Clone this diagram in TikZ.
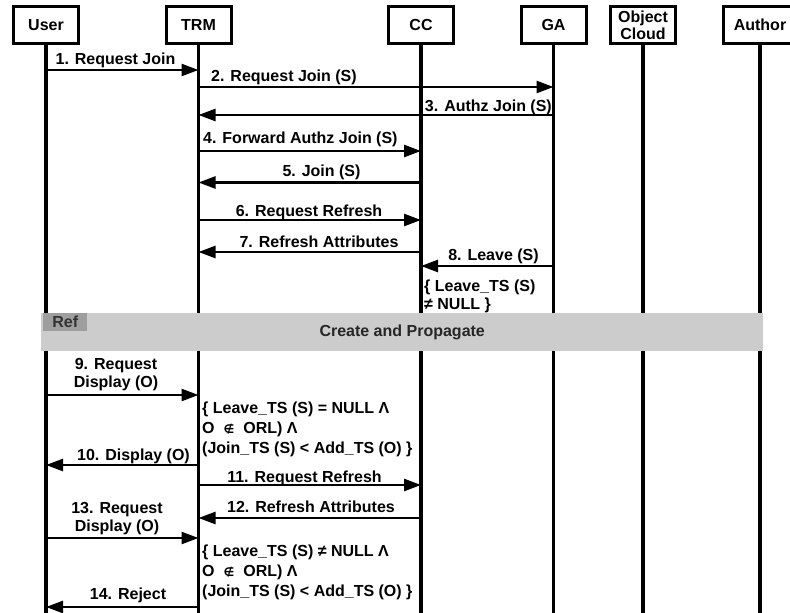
\documentclass[tikz,border=0pt]{standalone}
\usepackage{fontspec}
\setmainfont{Liberation Sans}
\newfontfamily\signfont{DejaVu Sans}
\usepackage{tikz}
\usetikzlibrary{arrows.meta,positioning}
\usepackage{xcolor}
\definecolor{refcolor}{RGB}{204,204,204}
\definecolor{tabcolor}{RGB}{158,158,158}

\begin{document}
\begin{tikzpicture}[
    x=1pt, y=-1pt,
    actor/.style={draw, line width=3pt, minimum width=65pt, minimum height=37pt, inner sep=0pt, align=center, font=\bfseries\fontsize{16}{17}\selectfont},
    life/.style={line width=3.5pt},
    msg/.style={line width=2.5pt, -{Triangle[length=17pt,width=12pt]}},
    lbl/.style={inner sep=0pt, align=center, font=\bfseries\fontsize{16}{18}\selectfont},
    cond/.style={inner sep=0pt, align=left, font=\bfseries\fontsize{16}{20}\selectfont}
]
    \useasboundingbox (0,0) rectangle (790,613);

    % Actors
    \foreach \n/\x/\t in {user/46/User, trm/198.5/TRM, cc/421/CC, ga/553.5/GA, oc/643/Object\\Cloud} {
        \node[actor] (\n) at (\x, 25) {\t};
    }
    \node[actor, minimum width=73pt] (author) at (760, 25) {Author};

    % Lifelines
    \coordinate (bottom) at (0, 625);
    \foreach \n in {user, trm, cc, ga, oc, author} {
        \draw[life] (\n.south) -- (\n.south |- bottom);
    }

    % Join
    \draw[msg] (user |- 0,70) -- (trm |- 0,70);
    \node[lbl, anchor=base] (m1) at (115.5, 64.5) {1. Request Join};
    \draw[msg] (trm |- 0,87) -- (ga |- 0,87);
    \node[lbl, anchor=base west] (m2) at (211, 81.5) {2. Request Join (S)};
    \draw[msg] (ga |- 0,115) -- (trm |- 0,115);
    \node[lbl, anchor=base east] (m3) at (552, 111.5) {3. Authz Join (S)};
    \draw[msg] (trm |- 0,151) -- (cc |- 0,151);
    \node[lbl, anchor=base west] (m4) at (203, 143.5) {4. Forward Authz Join (S)};
    \draw[msg] (cc |- 0,182.5) -- (trm |- 0,182.5);
    \node[lbl, anchor=base] (m5) at (321.5, 176.5) {5. Join (S)};
    \draw[msg] (trm |- 0,220) -- (cc |- 0,220);
    \node[lbl, anchor=base] (m6) at (309, 216.5) {6. Request Refresh};
    \draw[msg] (cc |- 0,252) -- (trm |- 0,252);
    \node[lbl, anchor=base] (m7) at (319, 247.5) {7. Refresh Attributes};
    \draw[msg] (ga |- 0,266) -- (cc |- 0,266);
    \node[lbl, anchor=base] (m8) at (493.5, 260.5) {8. Leave (S)};
    \node[cond, anchor=base west, font=\bfseries\fontsize{16}{18}\selectfont] (n8) at (424, 309.5) {\{ Leave\_TS (S)\\≠ NULL \}};

    % Ref frame
    \node[fill=refcolor, minimum width=722pt, minimum height=38pt, inner sep=0pt, anchor=north west,
          font=\bfseries\fontsize{16}{18}\selectfont, text=black!85] (ref) at (41, 313) {Create and Propagate};
    \node[fill=tabcolor, minimum width=44pt, minimum height=18pt, inner sep=0pt, anchor=north west,
          font=\bfseries\fontsize{16}{18}\selectfont, text=black!80] (reftab) at (43, 313) {Ref};

    % Display, no leave
    \draw[msg] (user |- 0,395) -- (trm |- 0,395);
    \node[lbl, anchor=base] (m9) at (116, 387) {9. Request\\Display (O)};
    \node[cond, anchor=base west] (c9) at (202, 453.5)
        {\{ Leave\_TS (S) = NULL Λ\\O\hspace{9pt}{\signfont\fontsize{12}{12}\selectfont ∉}\hspace{9pt}ORL) Λ\\(Join\_TS (S) < Add\_TS (O) \}};
    \draw[msg] (trm |- 0,465) -- (user |- 0,465);
    \node[lbl, anchor=base] (m10) at (133.5, 460) {10. Display (O)};

    % Display after leave
    \draw[msg] (trm |- 0,485) -- (cc |- 0,485);
    \node[lbl, anchor=base] (m11) at (304.5, 482.5) {11. Request Refresh};
    \draw[msg] (cc |- 0,518) -- (trm |- 0,518);
    \node[lbl, anchor=base] (m12) at (311, 512.5) {12. Refresh Attributes};
    \draw[msg] (user |- 0,538) -- (trm |- 0,538);
    \node[lbl, anchor=base] (m13) at (117, 531.5) {13. Request\\Display (O)};
    \node[cond, anchor=base west] (c13) at (202, 596)
        {\{ Leave\_TS (S) ≠ NULL Λ\\O\hspace{9pt}{\signfont\fontsize{12}{12}\selectfont ∉}\hspace{9pt}ORL) Λ\\(Join\_TS (S) < Add\_TS (O) \}};
    \draw[msg] (trm |- 0,607) -- (user |- 0,607);
    \node[lbl, anchor=base] (m14) at (128, 599.5) {14. Reject};
\end{tikzpicture}
\end{document}
